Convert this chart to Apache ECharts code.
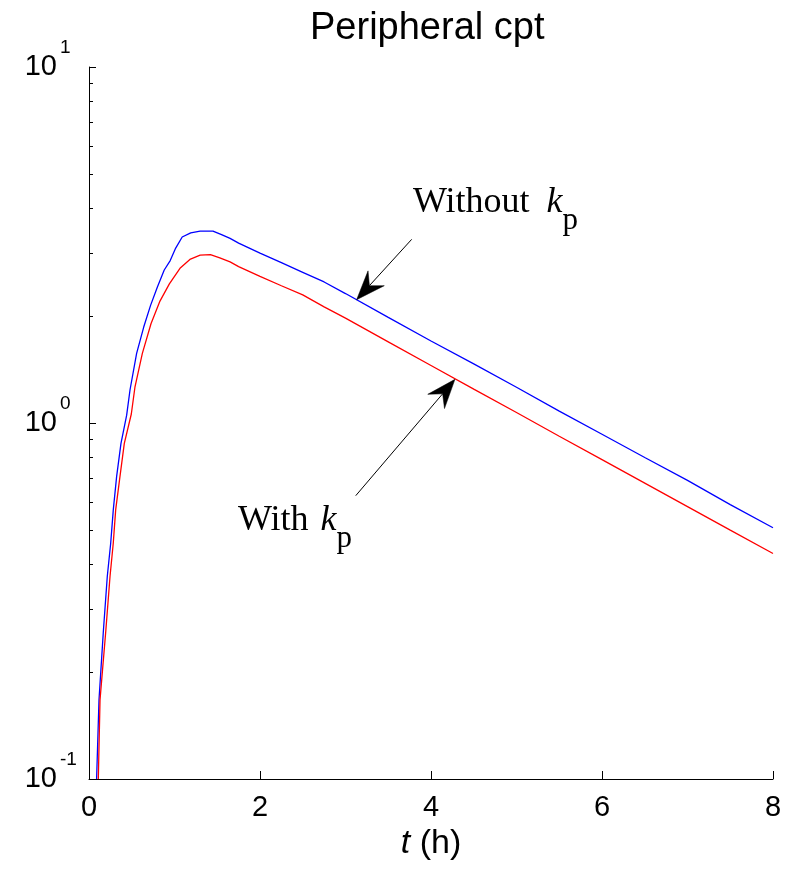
<!DOCTYPE html>
<html>
<head>
<meta charset="utf-8">
<script src="https://cdn.jsdelivr.net/npm/echarts@6/dist/echarts.min.js"></script>
<style>
  html, body { margin: 0; padding: 0; background: #ffffff; }
  #chart { width: 795px; height: 872px; }
</style>
</head>
<body>
<div id="chart"></div>
<script>
// Peripheral compartment concentration vs time (h), with and without k_p
const tWithout = [0.089, 0.117, 0.167, 0.214, 0.254, 0.284, 0.323, 0.374, 0.44, 0.48, 0.557, 0.64, 0.72, 0.80, 0.88, 0.95, 1.014, 1.09, 1.19, 1.3, 1.45, 1.55, 1.65, 1.75, 2.0, 2.25, 2.5, 2.75, 3.0, 3.5, 4.0, 4.5, 5.0, 5.5, 6.0, 6.5, 7.0, 7.5, 8.0];
const cWithout = [0.1, 0.167, 0.258, 0.371, 0.46, 0.57, 0.707, 0.877, 1.05, 1.24, 1.569, 1.86, 2.14, 2.41, 2.69, 2.86, 3.10, 3.33, 3.42, 3.46, 3.46, 3.38, 3.30, 3.20, 3.0, 2.82, 2.65, 2.49, 2.31, 1.98, 1.70, 1.466, 1.26, 1.08, 0.93, 0.80, 0.69, 0.59, 0.508];

const tWith = [0.109, 0.129, 0.195, 0.246, 0.284, 0.312, 0.362, 0.413, 0.495, 0.538, 0.624, 0.725, 0.83, 0.94, 1.064, 1.18, 1.3, 1.42, 1.53, 1.65, 1.75, 2.0, 2.25, 2.5, 2.75, 3.0, 3.5, 4.0, 4.5, 5.0, 5.5, 6.0, 6.5, 7.0, 7.5, 8.0];
const cWith = [0.1, 0.167, 0.258, 0.371, 0.46, 0.57, 0.707, 0.877, 1.06, 1.264, 1.569, 1.90, 2.20, 2.46, 2.72, 2.88, 2.96, 2.97, 2.91, 2.835, 2.75, 2.58, 2.43, 2.29, 2.12, 1.97, 1.69, 1.45, 1.245, 1.07, 0.918, 0.789, 0.678, 0.582, 0.50, 0.43];

const xRange = [0, 8];
const xStep = 2;
const yRange = [0.1, 10];
const yDecades = [0.1, 1, 10];
const yMinorTicks = [0.2, 0.3, 0.4, 0.5, 0.6, 0.7, 0.8, 0.9, 2, 3, 4, 5, 6, 7, 8, 9];
const yBaseLabel = '10';

const titleText = 'Peripheral cpt';
const xName = ['t', ' (h)'];
const labelWithout = ['Without ', 'k', 'p'];
const labelWith = ['With ', 'k', 'p'];

// annotation anchors in data space: [t, conc]
const arrowWithout = { tail: [3.774, 3.28], tip: [3.13, 2.22], text: [3.79, 4.15], kGap: 8 };
const arrowWith = { tail: [3.12, 0.625], tip: [4.28, 1.326], text: [1.743, 0.531], kGap: 3 };

const pairs = (ts, cs) => ts.map((t, i) => [t, cs[i]]);

const SANS = '"Liberation Sans", Arial, Helvetica, sans-serif';
const SERIF = '"Liberation Serif", "Times New Roman", serif';

const chart = echarts.init(document.getElementById('chart'), null, { renderer: 'canvas' });

const logAxisBase = {
  type: 'log',
  logBase: 10,
  min: yRange[0],
  max: yRange[1],
  position: 'left',
  splitLine: { show: false }
};

const option = {
  animation: false,
  backgroundColor: '#ffffff',
  title: {
    text: titleText,
    left: 305,
    top: 5,
    textStyle: { fontFamily: SANS, fontSize: 38, fontWeight: 'normal', color: '#000' }
  },
  grid: { left: 89, top: 67, right: 22, bottom: 93, containLabel: false },
  xAxis: {
    type: 'value',
    min: xRange[0],
    max: xRange[1],
    interval: xStep,
    name: '{i|' + xName[0] + '}{n|' + xName[1] + '}',
    nameLocation: 'middle',
    nameGap: 45,
    nameTextStyle: {
      rich: {
        i: { fontFamily: SANS, fontSize: 34, fontStyle: 'italic', color: '#000' },
        n: { fontFamily: SANS, fontSize: 34, color: '#000' }
      }
    },
    axisLine: { show: true, onZero: false, lineStyle: { color: '#000', width: 1 } },
    axisTick: { show: true, inside: true, length: 8, lineStyle: { color: '#000', width: 1 } },
    axisLabel: { show: true, margin: 14, fontFamily: SANS, fontSize: 29, color: '#000' },
    splitLine: { show: false }
  },
  yAxis: [
    Object.assign({}, logAxisBase, {
      // decades: axis line, major ticks and the "10" base of each label
      axisLine: { show: true, onZero: false, lineStyle: { color: '#000', width: 1 } },
      axisTick: { show: true, inside: true, length: 7, lineStyle: { color: '#000', width: 1 } },
      axisLabel: {
        show: true,
        margin: 32,
        formatter: () => yBaseLabel,
        fontFamily: SANS, fontSize: 29, color: '#000'
      }
    }),
    Object.assign({}, logAxisBase, {
      // minor ticks 2..9 within each decade
      axisLine: { show: false },
      axisLabel: { show: false },
      axisTick: { show: true, inside: true, length: 4, customValues: yMinorTicks, lineStyle: { color: '#000', width: 1 } }
    })
  ],
  series: [
    {
      name: 'Without kp',
      type: 'line',
      data: pairs(tWithout, cWithout),
      showSymbol: false,
      symbol: 'none',
      lineStyle: { color: '#0000ff', width: 1.3 },
      clip: true,
      z: 2
    },
    {
      name: 'With kp',
      type: 'line',
      data: pairs(tWith, cWith),
      showSymbol: false,
      symbol: 'none',
      lineStyle: { color: '#ff0000', width: 1.3 },
      clip: true,
      z: 3
    }
  ]
};

chart.setOption(option);

const toPx = p => chart.convertToPixel({ xAxisIndex: 0, yAxisIndex: 0 }, p);

// raised exponents next to each "10" decade label
function exponentElements() {
  return yDecades.map(v => {
    const p = toPx([xRange[0], v]);
    return {
      type: 'text',
      x: p[0] - 29,
      y: p[1] - 19,
      z: 10,
      style: {
        text: String(Math.round(Math.log10(v))),
        align: 'left',
        verticalAlign: 'middle',
        fontFamily: SANS,
        fontSize: 19,
        fill: '#000'
      }
    };
  });
}

// arrows and their labels, placed from data-space anchors
function arrowElements(a) {
  const tip = toPx(a.tip);
  const tail = toPx(a.tail);
  const dx = tail[0] - tip[0], dy = tail[1] - tip[1];
  const len = Math.hypot(dx, dy);
  const ux = dx / len, uy = dy / len;
  const nx = -uy, ny = ux;
  const L = 29, W = 11, N = 19;
  const head = [
    tip,
    [tip[0] + ux * L + nx * W, tip[1] + uy * L + ny * W],
    [tip[0] + ux * N, tip[1] + uy * N],
    [tip[0] + ux * L - nx * W, tip[1] + uy * L - ny * W]
  ];
  return [
    {
      type: 'line',
      shape: { x1: tail[0], y1: tail[1], x2: tip[0] + ux * N, y2: tip[1] + uy * N },
      style: { stroke: '#000', lineWidth: 1 },
      z: 10
    },
    {
      type: 'polygon',
      shape: { points: head },
      style: { fill: '#000', stroke: '#000', lineWidth: 0.5 },
      z: 10
    }
  ];
}

function labelElement(a, parts) {
  const p = toPx(a.text);
  return {
    type: 'text',
    x: p[0],
    y: p[1],
    z: 10,
    style: {
      text: '{n|' + parts[0] + '}{k|' + parts[1] + '}{p|' + parts[2] + '}',
      align: 'left',
      verticalAlign: 'middle',
      rich: {
        n: { fontFamily: SERIF, fontSize: 36, lineHeight: 40, fill: '#000' },
        k: { fontFamily: SERIF, fontSize: 36, lineHeight: 40, fontStyle: 'italic', fill: '#000', padding: [0, 0, 0, a.kGap] },
        p: { fontFamily: SERIF, fontSize: 31, lineHeight: 32, fill: '#000', padding: [36, 0, 0, 0] }
      }
    }
  };
}

const graphics = []
  .concat(exponentElements())
  .concat(arrowElements(arrowWithout))
  .concat(arrowElements(arrowWith))
  .concat([labelElement(arrowWithout, labelWithout), labelElement(arrowWith, labelWith)]);

chart.setOption({ graphic: graphics });
</script>
</body>
</html>
